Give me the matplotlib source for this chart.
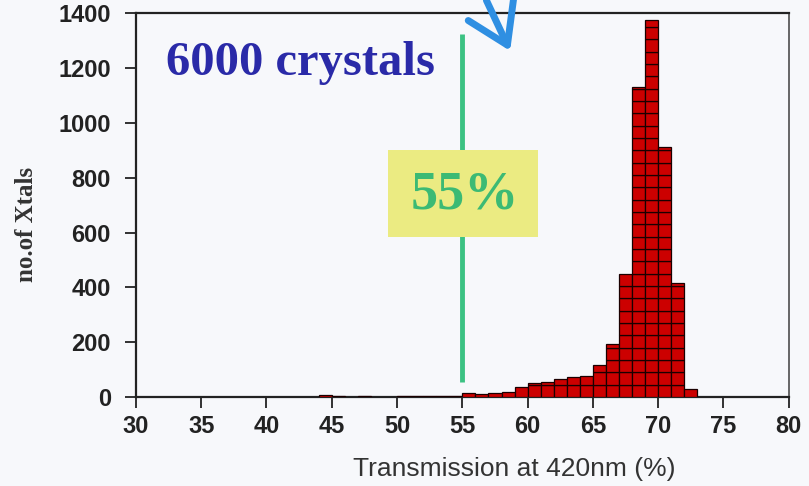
import numpy as np
import matplotlib.pyplot as plt
from matplotlib.patches import Rectangle

# transmission histogram, 1% bins (left edges) and crystal counts
bin_left = [44, 45, 46, 47, 48, 49, 50, 51, 52, 53, 54, 55, 56, 57, 58, 59,
            60, 61, 62, 63, 64, 65, 66, 67, 68, 69, 70, 71, 72]
counts = [6, 4, 0, 5, 0, 0, 3, 3, 4, 4, 5, 15, 12, 15, 20, 36,
          50, 55, 65, 73, 75, 117, 193, 448, 1130, 1374, 911, 416, 30]

x_ticks = [30, 35, 40, 45, 50, 55, 60, 65, 70, 75, 80]
y_ticks = [0, 200, 400, 600, 800, 1000, 1200, 1400]
cut_value = 55
cut_label = '55%'
title_text = '6000 crystals'

bg = '#f7f8fb'
fig = plt.figure(figsize=(8.09, 4.86), dpi=100, facecolor=bg)
ax = fig.add_axes([0.168, 0.183, 0.807, 0.790], facecolor=bg)

# bars drawn as stacks of small boxes
seg = 45
for left, n in zip(bin_left, counts):
    if n <= 0:
        continue
    bottoms = np.arange(0, n, seg)
    heights = np.minimum(seg, n - bottoms)
    ax.bar(np.full(len(bottoms), left), heights, width=1, bottom=bottoms,
           align='edge', color='#cc0000', edgecolor='#1a0000', linewidth=0.9,
           zorder=3)

# 55% cut line and label box
ax.plot([cut_value, cut_value], [55, 1325], color='#3cc283', lw=3.5,
        solid_capstyle='butt', zorder=2)
ax.add_patch(Rectangle((49.3, 583), 11.5, 317, facecolor='#ebeb82',
                       edgecolor='none', zorder=4))
ax.text(cut_value + 0.2, 735, cut_label, ha='center', va='center', fontsize=39,
        family='Liberation Serif', fontweight='bold', color='#3cba74', zorder=5)

ax.text(42.6, 1218, title_text, ha='center', va='center', fontsize=35,
        family='Liberation Serif', fontweight='bold', color='#2a2aa8', zorder=5)

# blue arrow poking in from above
ax.annotate('', xy=(0.575, 0.895), xytext=(0.535, 1.04),
            xycoords='axes fraction', textcoords='axes fraction',
            arrowprops=dict(arrowstyle='->, head_length=1.4, head_width=0.9',
                            color='#2f8fe2', lw=5, mutation_scale=20),
            annotation_clip=False, zorder=6)

ax.set_xlim(30, 80)
ax.set_ylim(0, 1400)
ax.set_xticks(x_ticks)
ax.set_yticks(y_ticks)
ax.tick_params(direction='out', length=8, width=1.3, colors='#222222',
               labelsize=17)
ax.tick_params(axis='x', pad=5)
ax.tick_params(axis='y', pad=10)
for lab in ax.get_xticklabels() + ax.get_yticklabels():
    lab.set_family('Liberation Sans')
    lab.set_fontweight('bold')

for side in ['left', 'bottom', 'top']:
    ax.spines[side].set_color('#222222')
    ax.spines[side].set_linewidth(1.6)
ax.spines['right'].set_color('#666666')
ax.spines['right'].set_linewidth(1.4)

ax.set_xlabel('Transmission at 420nm (%)', fontsize=19,
              family='Liberation Sans', color='#333333')
ax.xaxis.set_label_coords(0.579, -0.155)
ax.set_ylabel('no.of Xtals', fontsize=18, family='Liberation Serif',
              fontweight='bold', color='#333333')
ax.yaxis.set_label_coords(-0.15, 0.45)

fig.savefig('out.png', dpi=100, facecolor=bg)
